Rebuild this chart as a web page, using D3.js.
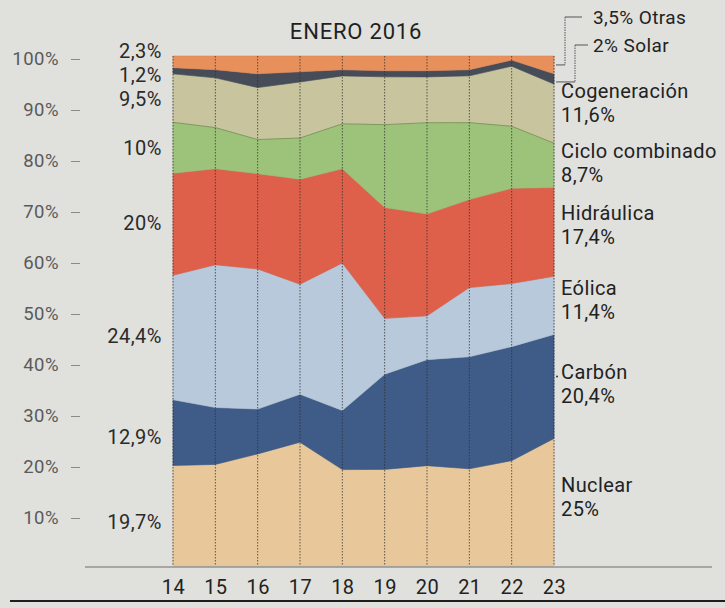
<!DOCTYPE html>
<html>
<head>
<meta charset="utf-8">
<script src="https://cdn.jsdelivr.net/npm/d3@7"></script>
<style>
  html, body { margin: 0; padding: 0; background: #e0e0dd; }
  svg { display: block; }
  text { font-family: Roboto, "Open Sans", sans-serif; }
</style>
</head>
<body>
<svg id="chart" width="725" height="608"></svg>
<script>
// ---------- DATA ----------
const title = "ENERO 2016";
const days = [14, 15, 16, 17, 18, 19, 20, 21, 22, 23];
const seriesNames = ["Nuclear", "Carbón", "Eólica", "Hidráulica", "Ciclo combinado", "Cogeneración", "Solar", "Otras"];
const nuclear        = [19.7, 20.0, 22.0, 24.3, 18.9, 19.0, 19.7, 19.1, 20.7, 25.0];
const carbon         = [12.9, 11.2,  8.8,  9.4, 11.6, 18.7, 20.8, 22.0, 22.4, 20.4];
const eolica         = [24.4, 28.1, 27.5, 21.6, 28.9, 11.0,  8.6, 13.6, 12.4, 11.4];
const hidraulica     = [20.0, 18.9, 18.7, 20.6, 18.5, 21.8, 20.0, 17.3, 18.7, 17.4];
const cicloCombinado = [10.0,  8.1,  6.7,  8.1,  8.8, 16.3, 17.9, 15.1, 12.2,  8.7];
const cogeneracion   = [ 9.5,  9.8, 10.2, 11.0,  9.4,  9.4,  9.0,  9.2, 11.8, 11.6];
const solar          = [ 1.2,  1.6,  2.7,  2.0,  1.2,  1.2,  1.2,  1.2,  1.2,  2.0];
const otras          = [ 2.3,  2.7,  3.5,  3.1,  2.7,  2.9,  2.9,  2.7,  0.8,  3.5];
const startLabels = ["19,7%", "12,9%", "24,4%", "20%", "10%", "9,5%", "1,2%", "2,3%"];
const endLabels   = ["25%", "20,4%", "11,4%", "17,4%", "8,7%", "11,6%", "2%", "3,5%"];
const yTickValues = [0.1, 0.2, 0.3, 0.4, 0.5, 0.6, 0.7, 0.8, 0.9, 1.0];
const yTickLabels = ["10%", "20%", "30%", "40%", "50%", "60%", "70%", "80%", "90%", "100%"];

// ---------- STYLE ----------
const colors = ["#e8c89b", "#3f5b87", "#b8c9db", "#de604a", "#9dc37b", "#c8c59e", "#474c59", "#e8905c"];

const seriesValues = [nuclear, carbon, eolica, hidraulica, cicloCombinado, cogeneracion, solar, otras];
const table = days.map((d, i) => {
  const row = { day: d };
  seriesNames.forEach((n, k) => row[n] = seriesValues[k][i]);
  return row;
});

const svg = d3.select("#chart");
const x = d3.scaleLinear().domain([14, 23]).range([173, 554]);
const y = d3.scaleLinear().domain([0, 1]).range([566, 56]);

const stacked = d3.stack().keys(seriesNames).offset(d3.stackOffsetExpand)(table);

const area = d3.area()
  .x(d => x(d.data.day))
  .y0(d => y(d[0]))
  .y1(d => y(d[1]));

svg.append("g").selectAll("path")
  .data(stacked)
  .join("path")
  .attr("d", area)
  .attr("fill", (d, i) => colors[i])
  .attr("stroke", (d, i) => d3.color(colors[i]).darker(0.15))
  .attr("stroke-width", 0.6);

// thin boundary line at top of Ciclo combinado
const line = d3.line().x(d => x(d.data.day)).y(d => y(d[1]));
svg.append("path").datum(stacked[4])
  .attr("d", line).attr("fill", "none")
  .attr("stroke", "#7f9a60").attr("stroke-width", 1);

// vertical dotted day lines
svg.append("g").selectAll("line")
  .data(days)
  .join("line")
  .attr("x1", d => x(d)).attr("x2", d => x(d))
  .attr("y1", y(1)).attr("y2", y(0))
  .attr("stroke", "#2f2f2f")
  .attr("stroke-width", 1)
  .attr("stroke-dasharray", "1.5,1.5")
  .attr("opacity", 0.75);

// y axis
const yAxis = d3.axisLeft(y)
  .tickValues(yTickValues)
  .tickFormat((d, i) => yTickLabels[i])
  .tickSize(9)
  .tickPadding(12);
const gy = svg.append("g").attr("transform", "translate(80,3)").call(yAxis);
gy.select(".domain").remove();
gy.selectAll(".tick line").attr("stroke", "#8a8a8a").attr("stroke-width", 1);
gy.selectAll(".tick text").attr("fill", "#5a5a5a").style("font-size", "18.5px")
  .style("letter-spacing", "0.5px")
  .style("font-family", "Roboto, sans-serif");

// x axis
svg.append("line").attr("x1", 85).attr("x2", 712).attr("y1", 567).attr("y2", 567)
  .attr("stroke", "#6d6d6d").attr("stroke-width", 1.2);
const xAxis = d3.axisBottom(x).tickValues(days).tickFormat(d3.format("d")).tickSize(0).tickPadding(13);
const gx = svg.append("g").attr("transform", "translate(0,567)").call(xAxis);
gx.select(".domain").remove();
gx.selectAll(".tick text").attr("fill", "#222").style("font-size", "20px")
  .style("letter-spacing", "0.4px")
  .style("font-family", "Roboto, sans-serif");

// bottom rule
svg.append("line").attr("x1", 10).attr("x2", 725).attr("y1", 601).attr("y2", 601)
  .attr("stroke", "#1e1e1e").attr("stroke-width", 2);

// title
svg.append("text").attr("x", 356).attr("y", 31)
  .attr("text-anchor", "middle").attr("dominant-baseline", "central")
  .attr("fill", "#1f1f1f").style("font-size", "22px").style("letter-spacing", "0.8px").text(title);

// left labels (first day values)
const leftNudge = [6, 4, -2, -1, 0, 1, 4, -11];
const first = stacked.map(s => s[0]);
svg.append("g").selectAll("text")
  .data(first)
  .join("text")
  .attr("x", 162)
  .attr("y", (d, i) => y((d[0] + d[1]) / 2) + leftNudge[i])
  .attr("text-anchor", "end").attr("dominant-baseline", "central")
  .attr("fill", "#2a2a2a").style("font-size", "20px").style("letter-spacing", "0.5px")
  .text((d, i) => startLabels[i]);

// right labels (last day) for the six big series
const last = stacked.map(s => s[s.length - 1]);
const rightNudge = [-5, -2, -5, -7, -2, -11];
const rg = svg.append("g");
for (let i = 0; i < 6; i++) {
  const cy = y((last[i][0] + last[i][1]) / 2) + rightNudge[i];
  rg.append("text").attr("x", 561).attr("y", cy - 12)
    .attr("dominant-baseline", "central").attr("fill", "#222")
    .style("font-size", "20px").style("letter-spacing", "0.4px").text(seriesNames[i]);
  rg.append("text").attr("x", 561).attr("y", cy + 12)
    .attr("dominant-baseline", "central").attr("fill", "#222")
    .style("font-size", "20px").style("letter-spacing", "0.4px").text(endLabels[i]);
}
// small dot before Carbón
rg.append("circle").attr("cx", 557).attr("cy", y((last[1][0] + last[1][1]) / 2) - 10)
  .attr("r", 1).attr("fill", "#333");

// Otras and Solar with leader lines
const otrasY = y((last[7][0] + last[7][1]) / 2);
const solarY = y((last[6][0] + last[6][1]) / 2);
const lg = svg.append("g").attr("fill", "none").attr("stroke", "#555").attr("stroke-width", 1);
lg.append("path").attr("d", `M582,17 H565`);
lg.append("path").attr("d", `M565,17 V${otrasY}`).attr("stroke-dasharray", "1.5,1");
lg.append("path").attr("d", `M565,${otrasY} H556`);
lg.append("path").attr("d", `M588,45 H575`);
lg.append("path").attr("d", `M575,45 V${solarY + 3}`).attr("stroke-dasharray", "1.5,1");
lg.append("path").attr("d", `M575,${solarY + 3} H556`);

svg.append("text").attr("x", 593).attr("y", 17).attr("dominant-baseline", "central")
  .attr("fill", "#222").style("font-size", "19px").style("letter-spacing", "0.4px").text(endLabels[7] + " " + seriesNames[7]);
svg.append("text").attr("x", 593).attr("y", 45).attr("dominant-baseline", "central")
  .attr("fill", "#222").style("font-size", "19px").style("letter-spacing", "0.4px").text(endLabels[6] + " " + seriesNames[6]);
</script>
</body>
</html>
